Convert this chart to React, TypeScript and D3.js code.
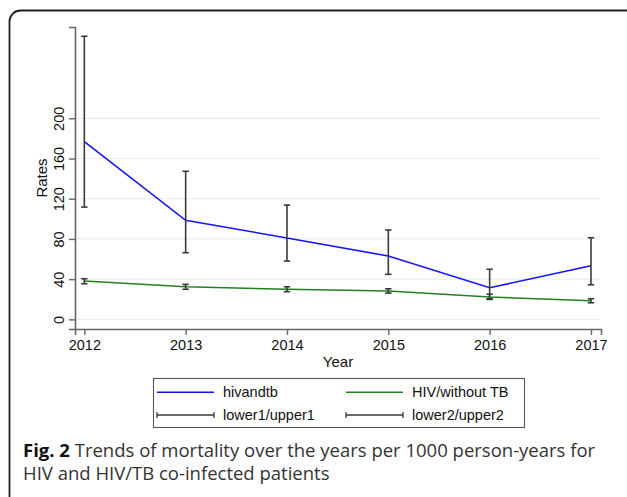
import { useEffect, useRef } from "react"
import * as d3 from "d3"

const years = [2012, 2013, 2014, 2015, 2016, 2017]
const hivTb = [176.7, 98.5, 81, 63, 31.4, 53.3]
const lower1 = [111.7, 66.3, 58, 44.8, 20.5, 34.4]
const upper1 = [281.6, 147.3, 113.7, 88.9, 49.8, 81.2]
const hivNoTb = [38.1, 32.4, 29.9, 28.2, 22.2, 18.5]
const lower2 = [35.4, 29.9, 27.5, 26.1, 19.8, 16.5]
const upper2 = [40.4, 34.8, 32.4, 30.4, 25, 20.5]
const yTicks = [0, 40, 80, 120, 160, 200]

const legendItems = [
  { label: "hivandtb", kind: "line", color: "#1414f5" },
  { label: "HIV/without TB", kind: "line", color: "#237f23" },
  { label: "lower1/upper1", kind: "bar", color: "#3a3a3a" },
  { label: "lower2/upper2", kind: "bar", color: "#3a3a3a" },
]

const chartFont = "'Liberation Sans', Arial, Helvetica, sans-serif"
const captionFont = "'Open Sans', 'Noto Sans', sans-serif"

export default function App() {
  const svgRef = useRef<SVGSVGElement>(null)

  useEffect(() => {
    document.body.style.margin = "0"
    if (!svgRef.current) return
    const width = 627
    const height = 497

    const svg = d3.select(svgRef.current)
    svg.selectAll("*").remove()
    svg.attr("width", width).attr("height", height)

    svg.append("rect").attr("width", width).attr("height", height).attr("fill", "#ffffff")

    // outer frame (rounded top-left corner)
    svg
      .append("path")
      .attr("d", "M9.5,497 L9.5,21 A11,11 0 0 1 20.5,10.5 L627,10.5")
      .attr("fill", "none")
      .attr("stroke", "#1e1e1e")
      .attr("stroke-width", 1.8)

    const x = d3.scaleLinear().domain([2011.908, 2017.099]).range([75, 601])
    const y = d3.scaleLinear().domain([-9.6, 290.8]).range([329, 27])

    // grid
    svg
      .append("g")
      .selectAll("line")
      .data(yTicks)
      .join("line")
      .attr("x1", 76)
      .attr("x2", 600)
      .attr("y1", (d) => y(d))
      .attr("y2", (d) => y(d))
      .attr("stroke", "#e6eff1")
      .attr("stroke-width", 1.2)

    // axes
    const xAxis = svg
      .append("g")
      .attr("transform", `translate(0,329)`)
      .call(d3.axisBottom(x).tickValues(years).tickFormat(d3.format("d")).tickSizeOuter(0).tickSize(6).tickPadding(5))
    xAxis.select(".domain").attr("stroke", "#666").attr("stroke-width", 1.6)
    xAxis.selectAll(".tick line").attr("stroke", "#666").attr("stroke-width", 1.4)
    xAxis.selectAll("text").attr("fill", "#111").attr("font-size", "14.5px").attr("font-family", chartFont)

    const yAxis = svg
      .append("g")
      .attr("transform", `translate(75,0)`)
      .call(d3.axisLeft(y).tickValues(yTicks).tickSizeOuter(0).tickSize(6))
    yAxis.select(".domain").attr("stroke", "#666").attr("stroke-width", 1.6)
    yAxis.selectAll(".tick line").attr("stroke", "#666").attr("stroke-width", 1.4)
    yAxis
      .selectAll<SVGTextElement, number>("text")
      .attr("x", null)
      .attr("dy", null)
      .attr("transform", "translate(-11,0) rotate(-90)")
      .attr("text-anchor", "middle")
      .attr("fill", "#111")
      .attr("font-size", "14.5px")
      .attr("font-family", chartFont)

    svg
      .append("text")
      .attr("transform", `translate(46.7,${(27 + 329) / 2}) rotate(-90)`)
      .attr("text-anchor", "middle")
      .attr("font-family", chartFont)
      .attr("font-size", "15px")
      .attr("fill", "#111")
      .text("Rates")

    svg
      .append("text")
      .attr("x", (75 + 601) / 2)
      .attr("y", 367)
      .attr("text-anchor", "middle")
      .attr("font-family", chartFont)
      .attr("font-size", "15px")
      .attr("fill", "#111")
      .text("Year")

    const idx = years.map((_, i) => i)
    const drawBars = (lo: number[], hi: number[], cls: string) => {
      const g = svg.append("g").attr("class", cls).attr("stroke", "#3a3a3a").attr("stroke-width", 1.6)
      g.selectAll("line.v")
        .data(idx)
        .join("line")
        .attr("class", "v")
        .attr("x1", (i) => x(years[i]))
        .attr("x2", (i) => x(years[i]))
        .attr("y1", (i) => y(lo[i]))
        .attr("y2", (i) => y(hi[i]))
      g.selectAll("line.t")
        .data(idx)
        .join("line")
        .attr("class", "t")
        .attr("x1", (i) => x(years[i]) - 3.2)
        .attr("x2", (i) => x(years[i]) + 3.2)
        .attr("y1", (i) => y(hi[i]))
        .attr("y2", (i) => y(hi[i]))
      g.selectAll("line.b")
        .data(idx)
        .join("line")
        .attr("class", "b")
        .attr("x1", (i) => x(years[i]) - 3.2)
        .attr("x2", (i) => x(years[i]) + 3.2)
        .attr("y1", (i) => y(lo[i]))
        .attr("y2", (i) => y(lo[i]))
    }

    const line = d3
      .line<number>()
      .x((_, i) => x(years[i]))
      .y((d) => y(d))

    svg
      .append("path")
      .datum(hivTb)
      .attr("fill", "none")
      .attr("stroke", legendItems[0].color)
      .attr("stroke-width", 1.6)
      .attr("d", line)

    drawBars(lower1, upper1, "ci1")

    svg
      .append("path")
      .datum(hivNoTb)
      .attr("fill", "none")
      .attr("stroke", legendItems[1].color)
      .attr("stroke-width", 1.6)
      .attr("d", line)

    drawBars(lower2, upper2, "ci2")

    // legend
    const legend = svg.append("g")
    legend
      .append("rect")
      .attr("x", 153.5)
      .attr("y", 378.5)
      .attr("width", 371)
      .attr("height", 49)
      .attr("fill", "#fff")
      .attr("stroke", "#555")
      .attr("stroke-width", 1.1)

    const colX = [157, 346]
    const rowY = [392.3, 415]
    legendItems.forEach((item, k) => {
      const cx = colX[k % 2]
      const cy = rowY[Math.floor(k / 2)]
      const g = legend.append("g")
      if (item.kind === "line") {
        g.append("line")
          .attr("x1", cx)
          .attr("x2", cx + 57)
          .attr("y1", cy)
          .attr("y2", cy)
          .attr("stroke", item.color)
          .attr("stroke-width", 1.5)
      } else {
        g.append("path")
          .attr("d", `M${cx},${cy - 3}V${cy + 3}M${cx},${cy}H${cx + 57}M${cx + 57},${cy - 3}V${cy + 3}`)
          .attr("fill", "none")
          .attr("stroke", item.color)
          .attr("stroke-width", 1.3)
      }
      g.append("text")
        .attr("x", cx + 66)
        .attr("y", cy + 5)
        .attr("font-family", chartFont)
        .attr("font-size", "14.5px")
        .attr("fill", "#111")
        .text(item.label)
    })

    // caption
    const cap = svg
      .append("text")
      .attr("x", 23)
      .attr("y", 456.5)
      .attr("font-family", captionFont)
      .attr("font-size", "18.5px")
      .attr("fill", "#333")
    cap.append("tspan").attr("font-weight", "bold").attr("fill", "#111").text("Fig. 2")
    cap.append("tspan").text(" Trends of mortality over the years per 1000 person-years for")
    svg
      .append("text")
      .attr("x", 23)
      .attr("y", 480)
      .attr("font-family", captionFont)
      .attr("font-size", "18.5px")
      .attr("fill", "#333")
      .text("HIV and HIV/TB co-infected patients")
  }, [])

  return <svg ref={svgRef} style={{ display: "block" }} />
}
